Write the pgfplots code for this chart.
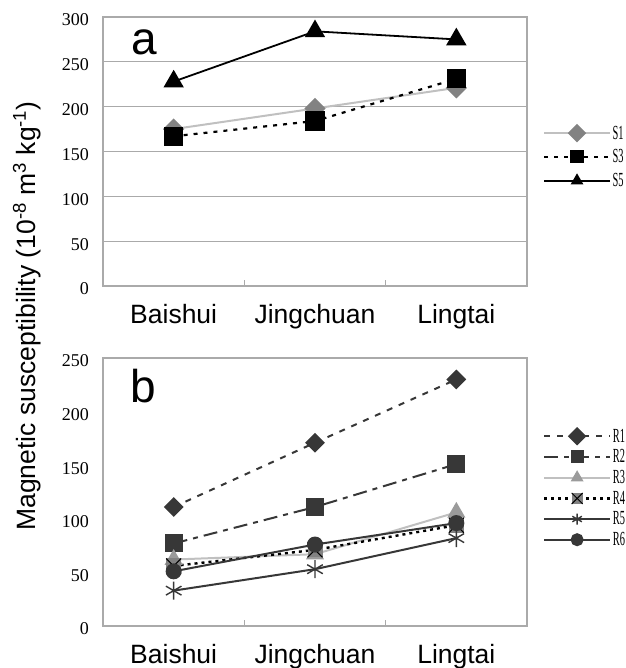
\documentclass[border=0pt]{standalone}
\usepackage{fontspec}
\setmainfont{Liberation Serif}
\newfontfamily\arial{Liberation Sans}
\newfontfamily\narrowserif[FakeStretch=0.52]{Liberation Serif}
\usepackage{pgfplots}
\pgfplotsset{compat=1.18}

\definecolor{gridgray}{RGB}{170,170,170}
\definecolor{lgray}{RGB}{192,192,192}
\definecolor{mgray}{RGB}{130,130,130}
\definecolor{dgray}{RGB}{55,55,55}

% filled square with an X on it (R4)
\pgfdeclareplotmark{boxx}{%
  \pgfpathrectangle{\pgfqpoint{-\pgfplotmarksize}{-\pgfplotmarksize}}{\pgfqpoint{2\pgfplotmarksize}{2\pgfplotmarksize}}%
  \pgfusepath{fill}%
  \pgfpathmoveto{\pgfqpoint{-\pgfplotmarksize}{-\pgfplotmarksize}}%
  \pgfpathlineto{\pgfqpoint{\pgfplotmarksize}{\pgfplotmarksize}}%
  \pgfpathmoveto{\pgfqpoint{-\pgfplotmarksize}{\pgfplotmarksize}}%
  \pgfpathlineto{\pgfqpoint{\pgfplotmarksize}{-\pgfplotmarksize}}%
  \pgfusepath{stroke}}

\pgfplotsset{
  panel/.style={
    scale only axis, width=424pt,
    xmin=-0.5, xmax=2.5,
    xtick={0,1,2}, xticklabels={Baishui,Jingchuan,Lingtai},
    minor xtick={0.5,1.5},
    xtick pos=bottom, ytick pos=left,
    tick align=inside,
    major tick length=0pt, minor tick length=6pt,
    minor tick style={gridgray, line width=1pt},
    axis line style={gridgray, line width=1.2pt},
    xticklabel style={font=\arial\fontsize{26.5}{30}\selectfont, anchor=base, yshift=-37pt},
    yticklabel style={font=\fontsize{18}{18}\selectfont, anchor=east, xshift=-14pt, yshift=-3pt, inner sep=0pt},
    /pgf/number format/assume math mode=true,
    clip=false,
    legend style={draw=none, fill=none, anchor=west,
      font=\narrowserif\fontsize{20}{20}\selectfont, legend cell align=left,
      nodes={inner sep=1.5pt}},
    legend image code/.code={%
      \draw[mark repeat=2, mark phase=2, #1, mark size=5.5pt]
        plot coordinates {(0pt,0pt) (33pt,0pt) (66pt,0pt)};},
  },
}

\begin{document}
\begin{tikzpicture}
\useasboundingbox (0,0) rectangle (625pt,-668pt);

\begin{axis}[panel, at={(103pt,-286pt)}, anchor=south west, height=269pt,
    ymin=0, ymax=300, ytick={0,50,...,300},
    ymajorgrids, grid style={gridgray, line width=1.2pt},
    legend style={at={(1.03,0.48)}, row sep=6pt}]
  \addplot[lgray, line width=2pt, mark=square*, mark size=6.5pt,
    mark options={solid, rotate=45, fill=mgray, draw=mgray}]
    coordinates {(0,175) (1,198) (2,221)};
  \addlegendentry{S1}
  \addplot[black, line width=2.2pt, dash pattern=on 4pt off 6pt,
    mark=square*, mark size=8.5pt, mark options={solid, fill=black}]
    coordinates {(0,167) (1,184) (2,231)};
  \addlegendentry{S3}
  \addplot[black, line width=1.8pt, mark=triangle*, mark size=10pt,
    mark options={solid, fill=black}]
    coordinates {(0,228) (1,284) (2,275)};
  \addlegendentry{S5}
\end{axis}

\begin{axis}[panel, at={(103pt,-626pt)}, anchor=south west, height=268pt,
    ymin=0, ymax=250, ytick={0,50,...,250},
    legend style={at={(1.03,0.515)}, row sep=3pt}]
  \addplot[dgray, line width=2pt, dash pattern=on 6pt off 7pt,
    mark=square*, mark size=6pt, mark options={solid, rotate=45, fill=dgray, draw=dgray}]
    coordinates {(0,111) (1,171) (2,230)};
  \addlegendentry{R1}
  \addplot[dgray, line width=2pt, dash pattern=on 14pt off 6pt on 5pt off 6pt,
    mark=square*, mark size=8pt, mark options={solid, fill=dgray, draw=dgray}]
    coordinates {(0,77) (1,111) (2,151)};
  \addlegendentry{R2}
  \addplot[lgray, line width=2pt, mark=triangle*, mark size=8.5pt,
    mark options={solid, fill=mgray!80, draw=mgray!80}]
    coordinates {(0,62) (1,67) (2,106)};
  \addlegendentry{R3}
  \addplot[black, line width=2.4pt, dash pattern=on 3pt off 4pt,
    mark=boxx, mark size=7.5pt, mark options={solid, fill=mgray, draw=black, line width=1pt}]
    coordinates {(0,56) (1,71) (2,94)};
  \addlegendentry{R4}
  \addplot[dgray, line width=2pt, mark=asterisk, mark size=9pt,
    mark options={solid, line width=1.4pt}]
    coordinates {(0,33) (1,53) (2,82)};
  \addlegendentry{R5}
  \addplot[dgray, line width=2pt, mark=*, mark size=7pt,
    mark options={solid, fill=dgray, draw=dgray}]
    coordinates {(0,51) (1,76) (2,96)};
  \addlegendentry{R6}
\end{axis}

\node[font=\arial\fontsize{46}{46}\selectfont, anchor=base west] at (128pt,-55pt) {a};
\node[font=\arial\fontsize{46}{46}\selectfont, anchor=base west] at (127pt,-402pt) {b};
\node[font=\arial\fontsize{26.5}{30}\selectfont, rotate=90, anchor=base] at (35pt,-316pt)
  {Magnetic susceptibility (10\textsuperscript{-8} m\textsuperscript{3} kg\textsuperscript{-1})};
\end{tikzpicture}
\end{document}
